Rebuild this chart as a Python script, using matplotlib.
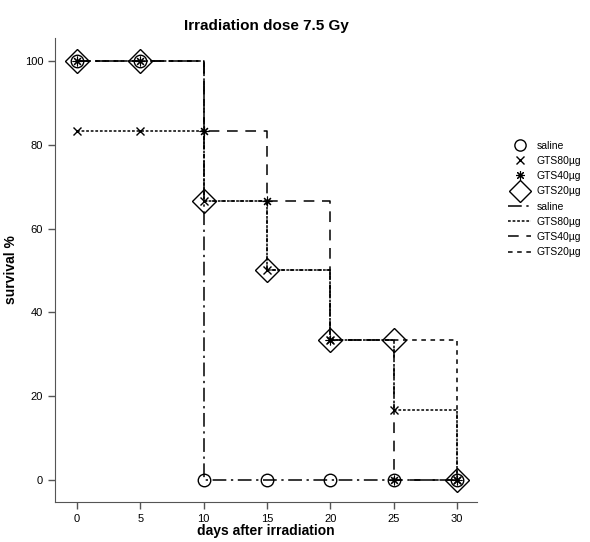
import matplotlib
matplotlib.use("Agg")
import matplotlib.pyplot as plt
from matplotlib.lines import Line2D

plt.rcParams['font.family'] = ['Liberation Sans', 'DejaVu Sans']

days = [0, 5, 10, 15, 20, 25, 30]
saline = [100, 100, 0, 0, 0, 0, 0]
gts80 = [83.3, 83.3, 66.7, 50, 33.3, 16.7, 0]
gts40 = [100, 100, 83.3, 66.7, 33.3, 0, 0]
gts20 = [100, 100, 66.7, 50, 33.3, 33.3, 0]
series_names = ["saline", "GTS80µg", "GTS40µg", "GTS20µg"]
xticks = [0, 5, 10, 15, 20, 25, 30]
yticks = [0, 20, 40, 60, 80, 100]

fig = plt.figure(figsize=(5.9, 5.42), dpi=100)
ax = fig.add_axes([0.0932, 0.0738, 0.8085 - 0.0932, 0.93 - 0.0738])

styles = [
    dict(ls=(0, (9, 3, 1.5, 3)), marker='o', ms=9, mew=1.0),
    dict(ls=(0, (1.8, 1.2)), marker='x', ms=6, mew=1.0),
    dict(ls=(0, (7, 5)), marker=(8, 2, 0), ms=7, mew=0.8),
    dict(ls=(0, (3, 3)), marker='D', ms=12, mew=1.0),
]
data = [saline, gts80, gts40, gts20]

for y, st in zip(data, styles):
    ax.step(days, y, where='post', color='black', lw=1.1, ls=st['ls'], zorder=2)
for y, st in zip(data, styles):
    ax.plot(days, y, ls='none', marker=st['marker'], ms=st['ms'], mfc='none',
            mec='black', mew=st['mew'], zorder=3)

ax.set_xlim(-1.74, 31.57)
ax.set_ylim(-5.25, 105.5)
ax.set_xticks(xticks)
ax.set_yticks(yticks)
ax.tick_params(labelsize=8, length=5, width=1, color='#555555')
for s in ['top', 'right']:
    ax.spines[s].set_visible(False)
for s in ['left', 'bottom']:
    ax.spines[s].set_color('#555555')

ax.set_title("Irradiation dose 7.5 Gy", fontsize=11, fontweight='bold', pad=6)
ax.set_xlabel("days after irradiation", fontsize=10, fontweight='bold')
ax.set_ylabel("survival %", fontsize=10, fontweight='bold')
ax.xaxis.set_label_coords(0.5, -0.048)
ax.yaxis.set_label_coords(-0.088, 0.5)

handles = []
for st in styles:
    handles.append(Line2D([], [], ls='none', marker=st['marker'], ms=st['ms'] * 0.9,
                          mfc='none', mec='black', mew=st['mew']))
for st in styles:
    handles.append(Line2D([], [], color='black', lw=1.1, ls=st['ls']))
labels = series_names + series_names
fig.legend(handles, labels, loc='upper left', bbox_to_anchor=(0.853, 0.75),
           frameon=False, fontsize=7.5, handlelength=2.2, labelspacing=0.5,
           handletextpad=0.5, borderpad=0)

fig.savefig("out.png", dpi=100)
